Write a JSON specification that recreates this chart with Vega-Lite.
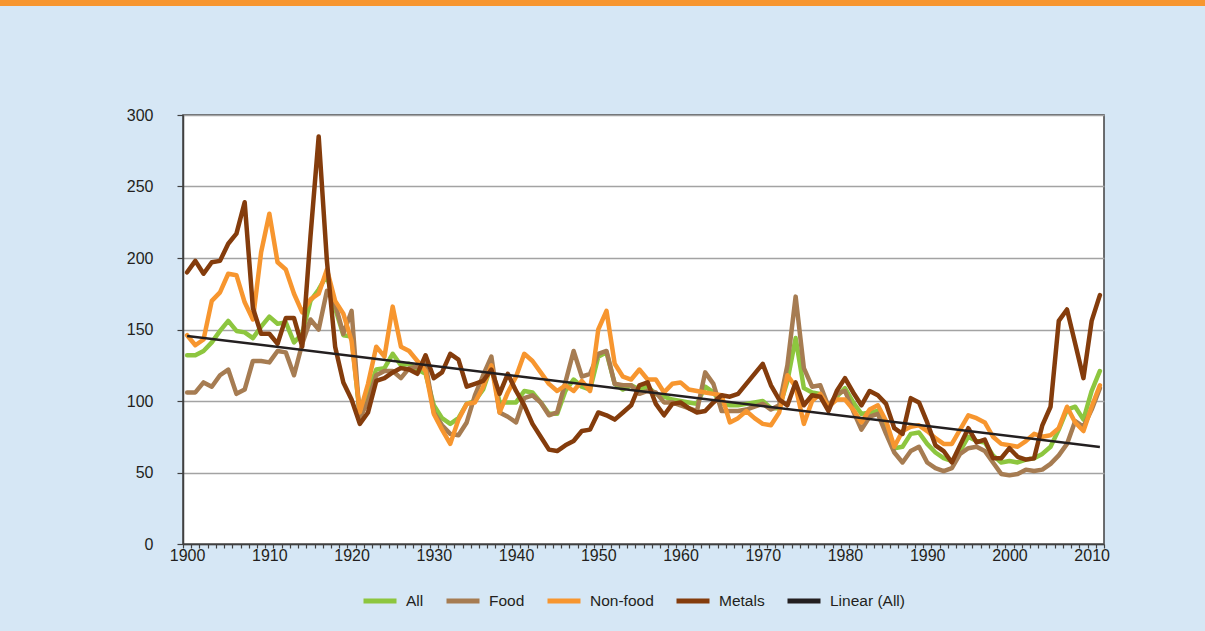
{
  "$schema": "https://vega.github.io/schema/vega-lite/v6.json",
  "background": "#D6E7F5",
  "padding": {"left": 0, "top": 0, "right": 0, "bottom": 30},
  "columns": 1,
  "spacing": 100,
  "resolve": {"legend": {"color": "independent"}},
  "config": {
    "font": "Liberation Sans",
    "axis": {"labelFont": "Liberation Sans", "labelColor": "#231F20"},
    "legend": {"labelFont": "Liberation Sans", "labelColor": "#231F20"}
  },
  "concat": [
    {
      "width": 1205,
      "height": 6,
      "view": {"fill": "#F7962F", "stroke": null},
      "data": {"values": [{"k": 1}]},
      "mark": {"type": "rect", "color": "#F7962F"},
      "encoding": {}
    },
    {
      "spacing": 22,
      "resolve": {"legend": {"color": "independent"}},
      "hconcat": [
        {
          "width": 100,
          "height": 429,
          "view": {"stroke": null},
          "data": {"values": [{"k": 1}]},
          "mark": {"type": "rect", "opacity": 0},
          "encoding": {}
        },
        {
          "width": 921,
          "height": 429,
          "view": {"fill": "white", "stroke": "#404040", "strokeWidth": 1.5},
          "resolve": {"axis": {"x": "independent"}},
          "layer": [
            {
              "data": {"values": [
                {"year":1900,"All":132,"Food":106,"Non-food":146,"Metals":190},
                {"year":1901,"All":132,"Food":106,"Non-food":139,"Metals":198},
                {"year":1902,"All":135,"Food":113,"Non-food":143,"Metals":189},
                {"year":1903,"All":141,"Food":110,"Non-food":170,"Metals":197},
                {"year":1904,"All":149,"Food":118,"Non-food":176,"Metals":198},
                {"year":1905,"All":156,"Food":122,"Non-food":189,"Metals":210},
                {"year":1906,"All":149,"Food":105,"Non-food":188,"Metals":217},
                {"year":1907,"All":148,"Food":108,"Non-food":169,"Metals":239},
                {"year":1908,"All":144,"Food":128,"Non-food":157,"Metals":165},
                {"year":1909,"All":152,"Food":128,"Non-food":204,"Metals":147},
                {"year":1910,"All":159,"Food":127,"Non-food":231,"Metals":147},
                {"year":1911,"All":154,"Food":135,"Non-food":197,"Metals":140},
                {"year":1912,"All":155,"Food":134,"Non-food":192,"Metals":158},
                {"year":1913,"All":141,"Food":118,"Non-food":175,"Metals":158},
                {"year":1914,"All":147,"Food":140,"Non-food":162,"Metals":138},
                {"year":1915,"All":170,"Food":157,"Non-food":171,"Metals":215},
                {"year":1916,"All":178,"Food":150,"Non-food":175,"Metals":285},
                {"year":1917,"All":188,"Food":177,"Non-food":192,"Metals":198},
                {"year":1918,"All":165,"Food":168,"Non-food":170,"Metals":138},
                {"year":1919,"All":146,"Food":147,"Non-food":161,"Metals":113},
                {"year":1920,"All":145,"Food":163,"Non-food":142,"Metals":101},
                {"year":1921,"All":90,"Food":88,"Non-food":92,"Metals":84},
                {"year":1922,"All":106,"Food":100,"Non-food":112,"Metals":92},
                {"year":1923,"All":122,"Food":118,"Non-food":138,"Metals":114},
                {"year":1924,"All":123,"Food":121,"Non-food":131,"Metals":116},
                {"year":1925,"All":133,"Food":121,"Non-food":166,"Metals":120},
                {"year":1926,"All":125,"Food":116,"Non-food":138,"Metals":123},
                {"year":1927,"All":126,"Food":123,"Non-food":135,"Metals":122},
                {"year":1928,"All":122,"Food":124,"Non-food":128,"Metals":119},
                {"year":1929,"All":119,"Food":126,"Non-food":121,"Metals":132},
                {"year":1930,"All":97,"Food":92,"Non-food":91,"Metals":116},
                {"year":1931,"All":88,"Food":83,"Non-food":80,"Metals":120},
                {"year":1932,"All":84,"Food":77,"Non-food":70,"Metals":133},
                {"year":1933,"All":88,"Food":76,"Non-food":87,"Metals":129},
                {"year":1934,"All":98,"Food":85,"Non-food":98,"Metals":110},
                {"year":1935,"All":100,"Food":104,"Non-food":99,"Metals":112},
                {"year":1936,"All":108,"Food":118,"Non-food":110,"Metals":114},
                {"year":1937,"All":125,"Food":131,"Non-food":125,"Metals":122},
                {"year":1938,"All":99,"Food":92,"Non-food":92,"Metals":105},
                {"year":1939,"All":99,"Food":89,"Non-food":106,"Metals":119},
                {"year":1940,"All":99,"Food":85,"Non-food":117,"Metals":107},
                {"year":1941,"All":107,"Food":102,"Non-food":133,"Metals":97},
                {"year":1942,"All":106,"Food":104,"Non-food":128,"Metals":84},
                {"year":1943,"All":99,"Food":99,"Non-food":120,"Metals":75},
                {"year":1944,"All":91,"Food":90,"Non-food":112,"Metals":66},
                {"year":1945,"All":91,"Food":92,"Non-food":107,"Metals":65},
                {"year":1946,"All":107,"Food":113,"Non-food":111,"Metals":69},
                {"year":1947,"All":115,"Food":135,"Non-food":107,"Metals":72},
                {"year":1948,"All":110,"Food":117,"Non-food":114,"Metals":79},
                {"year":1949,"All":108,"Food":119,"Non-food":107,"Metals":80},
                {"year":1950,"All":131,"Food":133,"Non-food":150,"Metals":92},
                {"year":1951,"All":134,"Food":135,"Non-food":163,"Metals":90},
                {"year":1952,"All":112,"Food":112,"Non-food":126,"Metals":87},
                {"year":1953,"All":108,"Food":111,"Non-food":117,"Metals":92},
                {"year":1954,"All":111,"Food":111,"Non-food":115,"Metals":97},
                {"year":1955,"All":108,"Food":105,"Non-food":122,"Metals":111},
                {"year":1956,"All":110,"Food":107,"Non-food":115,"Metals":113},
                {"year":1957,"All":105,"Food":106,"Non-food":115,"Metals":98},
                {"year":1958,"All":103,"Food":99,"Non-food":106,"Metals":90},
                {"year":1959,"All":101,"Food":99,"Non-food":112,"Metals":98},
                {"year":1960,"All":100,"Food":97,"Non-food":113,"Metals":99},
                {"year":1961,"All":99,"Food":95,"Non-food":108,"Metals":95},
                {"year":1962,"All":98,"Food":93,"Non-food":107,"Metals":92},
                {"year":1963,"All":110,"Food":120,"Non-food":106,"Metals":93},
                {"year":1964,"All":106,"Food":112,"Non-food":105,"Metals":99},
                {"year":1965,"All":98,"Food":93,"Non-food":104,"Metals":104},
                {"year":1966,"All":97,"Food":93,"Non-food":85,"Metals":103},
                {"year":1967,"All":97,"Food":93,"Non-food":88,"Metals":105},
                {"year":1968,"All":98,"Food":94,"Non-food":93,"Metals":112},
                {"year":1969,"All":99,"Food":96,"Non-food":88,"Metals":119},
                {"year":1970,"All":100,"Food":98,"Non-food":84,"Metals":126},
                {"year":1971,"All":95,"Food":94,"Non-food":83,"Metals":111},
                {"year":1972,"All":95,"Food":97,"Non-food":92,"Metals":101},
                {"year":1973,"All":114,"Food":125,"Non-food":118,"Metals":97},
                {"year":1974,"All":144,"Food":173,"Non-food":110,"Metals":113},
                {"year":1975,"All":109,"Food":123,"Non-food":84,"Metals":97},
                {"year":1976,"All":106,"Food":110,"Non-food":100,"Metals":104},
                {"year":1977,"All":105,"Food":111,"Non-food":105,"Metals":103},
                {"year":1978,"All":96,"Food":96,"Non-food":96,"Metals":93},
                {"year":1979,"All":103,"Food":105,"Non-food":101,"Metals":107},
                {"year":1980,"All":109,"Food":107,"Non-food":101,"Metals":116},
                {"year":1981,"All":99,"Food":93,"Non-food":94,"Metals":106},
                {"year":1982,"All":91,"Food":80,"Non-food":85,"Metals":97},
                {"year":1983,"All":92,"Food":89,"Non-food":94,"Metals":107},
                {"year":1984,"All":93,"Food":91,"Non-food":97,"Metals":104},
                {"year":1985,"All":83,"Food":77,"Non-food":86,"Metals":98},
                {"year":1986,"All":67,"Food":64,"Non-food":68,"Metals":81},
                {"year":1987,"All":68,"Food":57,"Non-food":79,"Metals":77},
                {"year":1988,"All":77,"Food":65,"Non-food":82,"Metals":102},
                {"year":1989,"All":78,"Food":68,"Non-food":83,"Metals":99},
                {"year":1990,"All":70,"Food":57,"Non-food":79,"Metals":85},
                {"year":1991,"All":64,"Food":53,"Non-food":74,"Metals":69},
                {"year":1992,"All":60,"Food":51,"Non-food":70,"Metals":65},
                {"year":1993,"All":58,"Food":53,"Non-food":70,"Metals":57},
                {"year":1994,"All":65,"Food":63,"Non-food":80,"Metals":69},
                {"year":1995,"All":75,"Food":67,"Non-food":90,"Metals":81},
                {"year":1996,"All":72,"Food":68,"Non-food":88,"Metals":71},
                {"year":1997,"All":71,"Food":65,"Non-food":85,"Metals":73},
                {"year":1998,"All":62,"Food":57,"Non-food":75,"Metals":60},
                {"year":1999,"All":57,"Food":49,"Non-food":70,"Metals":60},
                {"year":2000,"All":58,"Food":48,"Non-food":69,"Metals":67},
                {"year":2001,"All":57,"Food":49,"Non-food":68,"Metals":61},
                {"year":2002,"All":59,"Food":52,"Non-food":72,"Metals":59},
                {"year":2003,"All":60,"Food":51,"Non-food":77,"Metals":60},
                {"year":2004,"All":63,"Food":52,"Non-food":75,"Metals":83},
                {"year":2005,"All":68,"Food":56,"Non-food":76,"Metals":96},
                {"year":2006,"All":80,"Food":62,"Non-food":81,"Metals":156},
                {"year":2007,"All":94,"Food":70,"Non-food":96,"Metals":164},
                {"year":2008,"All":96,"Food":86,"Non-food":85,"Metals":140},
                {"year":2009,"All":87,"Food":82,"Non-food":79,"Metals":116},
                {"year":2010,"All":107,"Food":94,"Non-food":96,"Metals":156},
                {"year":2011,"All":121,"Food":109,"Non-food":111,"Metals":174}
              ]},
              "transform": [{"fold": ["All", "Food", "Non-food", "Metals"], "as": ["series", "value"]}],
              "mark": {"type": "line", "strokeWidth": 4.5, "strokeJoin": "round", "strokeCap": "round"},
              "encoding": {
                "x": {
                  "field": "year", "type": "quantitative",
                  "scale": {"domain": [1899.5, 2011.5], "nice": false, "zero": false},
                  "axis": {
                    "orient": "bottom", "title": null,
                    "values": [1900, 1910, 1920, 1930, 1940, 1950, 1960, 1970, 1980, 1990, 2000, 2010],
                    "format": "d", "ticks": false, "grid": false, "labelFlush": false,
                    "labelFontSize": 16, "labelPadding": 3,
                    "domain": true, "domainColor": "#404040", "domainWidth": 1.5
                  }
                },
                "y": {
                  "field": "value", "type": "quantitative",
                  "scale": {"domain": [0, 300], "nice": false},
                  "axis": {
                    "title": null, "values": [0, 50, 100, 150, 200, 250, 300],
                    "grid": true, "gridColor": "#A3A3A3", "gridWidth": 1.5,
                    "ticks": true, "tickSize": 6, "tickColor": "#404040", "tickWidth": 1.2,
                    "labelFontSize": 16, "labelPadding": 24,
                    "minExtent": 60, "maxExtent": 60,
                    "domain": true, "domainColor": "#404040", "domainWidth": 1.5
                  }
                },
                "color": {
                  "field": "series", "type": "nominal",
                  "scale": {
                    "domain": ["All", "Food", "Non-food", "Metals", "Linear (All)"],
                    "range": ["#8DC63F", "#A67C52", "#F7962F", "#843C0C", "#231F20"]
                  },
                  "legend": {
                    "title": null, "orient": "none", "direction": "horizontal",
                    "legendX": 178, "legendY": 467,
                    "symbolType": "stroke", "symbolSize": 1089, "symbolStrokeWidth": 5,
                    "labelFontSize": 15.5, "labelOffset": 7, "columnPadding": 12
                  }
                }
              }
            },
            {
              "data": {"values": [
                {"year": 1900, "trend": 145.5},
                {"year": 2011, "trend": 67.8}
              ]},
              "mark": {"type": "line", "strokeWidth": 2.5, "color": "#231F20"},
              "encoding": {
                "x": {
                  "field": "year", "type": "quantitative",
                  "scale": {"domain": [1899.5, 2011.5], "nice": false, "zero": false},
                  "axis": {
                    "orient": "bottom", "title": null, "labels": false, "grid": false, "domain": false,
                    "ticks": true, "tickSize": 4, "tickColor": "#404040", "tickWidth": 1.2,
                    "values": [1899.5,1900.5,1901.5,1902.5,1903.5,1904.5,1905.5,1906.5,1907.5,1908.5,1909.5,1910.5,1911.5,1912.5,1913.5,1914.5,1915.5,1916.5,1917.5,1918.5,1919.5,1920.5,1921.5,1922.5,1923.5,1924.5,1925.5,1926.5,1927.5,1928.5,1929.5,1930.5,1931.5,1932.5,1933.5,1934.5,1935.5,1936.5,1937.5,1938.5,1939.5,1940.5,1941.5,1942.5,1943.5,1944.5,1945.5,1946.5,1947.5,1948.5,1949.5,1950.5,1951.5,1952.5,1953.5,1954.5,1955.5,1956.5,1957.5,1958.5,1959.5,1960.5,1961.5,1962.5,1963.5,1964.5,1965.5,1966.5,1967.5,1968.5,1969.5,1970.5,1971.5,1972.5,1973.5,1974.5,1975.5,1976.5,1977.5,1978.5,1979.5,1980.5,1981.5,1982.5,1983.5,1984.5,1985.5,1986.5,1987.5,1988.5,1989.5,1990.5,1991.5,1992.5,1993.5,1994.5,1995.5,1996.5,1997.5,1998.5,1999.5,2000.5,2001.5,2002.5,2003.5,2004.5,2005.5,2006.5,2007.5,2008.5,2009.5,2010.5,2011.5]
                  }
                },
                "y": {"field": "trend", "type": "quantitative"},
                "color": {"datum": "Linear (All)", "type": "nominal"}
              }
            }
          ]
        }
      ]
    }
  ]
}
